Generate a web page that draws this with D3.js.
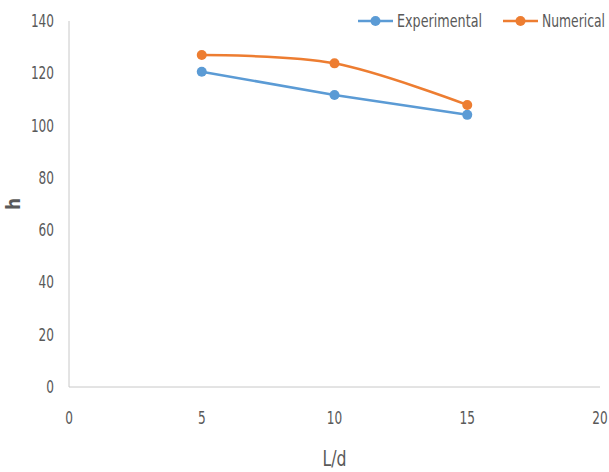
<!DOCTYPE html>
<html>
<head>
<meta charset="utf-8">
<script src="https://cdn.jsdelivr.net/npm/d3@7"></script>
<style>
body { margin: 0; background: #fff; }
text { font-family: "Liberation Sans Narrow", "DejaVu Sans Condensed", sans-serif; fill: #595959; }
</style>
</head>
<body>
<svg id="chart"></svg>
<script>
// chart data
const ratios = [5, 10, 15];
const experimental = [120.6, 111.7, 104.1];
const numerical = [127, 123.8, 107.9];
const xTicks = [0, 5, 10, 15, 20];
const yTicks = [0, 20, 40, 60, 80, 100, 120, 140];

const width = 609;
const height = 472;
const svg = d3.select('#chart')
  .attr('width', width)
  .attr('height', height);

const x = d3.scaleLinear().domain([0, 20]).range([69, 600]);
const y = d3.scaleLinear().domain([0, 140]).range([387, 21]);

// axis lines
svg.append('line')
  .attr('x1', x(0)).attr('x2', x(0))
  .attr('y1', y(140)).attr('y2', y(0))
  .attr('stroke', '#c8c8c8').attr('stroke-width', 1);
svg.append('line')
  .attr('x1', x(0)).attr('x2', x(20))
  .attr('y1', y(0)).attr('y2', y(0))
  .attr('stroke', '#c8c8c8').attr('stroke-width', 1);

// tick labels (narrow digits like the original font)
svg.selectAll('.ytick')
  .data(yTicks)
  .enter()
  .append('text')
  .attr('x', 54)
  .attr('y', d => y(d) + 6)
  .attr('text-anchor', 'end')
  .attr('textLength', d => String(d).length * 7.7)
  .attr('lengthAdjust', 'spacingAndGlyphs')
  .style('font-size', '17px')
  .text(d => d);

svg.selectAll('.xtick')
  .data(xTicks)
  .enter()
  .append('text')
  .attr('x', d => x(d))
  .attr('y', 424)
  .attr('text-anchor', 'middle')
  .attr('textLength', d => String(d).length * 7.7)
  .attr('lengthAdjust', 'spacingAndGlyphs')
  .style('font-size', '17px')
  .text(d => d);

// axis titles
svg.append('text')
  .attr('x', (x(0) + x(20)) / 2)
  .attr('y', 466)
  .attr('text-anchor', 'middle')
  .attr('textLength', 24)
  .attr('lengthAdjust', 'spacingAndGlyphs')
  .style('font-size', '21px')
  .text('L/d');

svg.append('text')
  .attr('transform', 'translate(20,' + 204 + ') rotate(-90)')
  .attr('text-anchor', 'middle')
  .style('font-size', '19px')
  .style('font-weight', 'bold')
  .text('h');

const series = [
  { name: 'Experimental', values: experimental, color: '#5B9BD5', curve: d3.curveLinear, w: 85 },
  { name: 'Numerical', values: numerical, color: '#ED7D31', curve: d3.curveCardinal.tension(0), w: 63 }
];

series.forEach(function(s) {
  const pts = ratios.map((r, i) => [r, s.values[i]]);
  const line = d3.line()
    .x(d => x(d[0]))
    .y(d => y(d[1]))
    .curve(s.curve);
  svg.append('path')
    .attr('d', line(pts))
    .attr('fill', 'none')
    .attr('stroke', s.color)
    .attr('stroke-width', 2.5);
  svg.selectAll(null)
    .data(pts)
    .enter()
    .append('circle')
    .attr('cx', d => x(d[0]))
    .attr('cy', d => y(d[1]))
    .attr('r', 5)
    .attr('fill', s.color);
});

// legend
const legendX = [358, 503];
series.forEach(function(s, i) {
  const g = svg.append('g').attr('transform', 'translate(' + legendX[i] + ',21)');
  g.append('line')
    .attr('x1', 0).attr('x2', 35)
    .attr('stroke', s.color).attr('stroke-width', 2.5);
  g.append('circle')
    .attr('cx', 17.5).attr('r', 5)
    .attr('fill', s.color);
  g.append('text')
    .attr('x', 39)
    .attr('y', 6)
    .attr('textLength', s.w)
    .attr('lengthAdjust', 'spacingAndGlyphs')
    .style('font-size', '17px')
    .text(s.name);
});
</script>
</body>
</html>
